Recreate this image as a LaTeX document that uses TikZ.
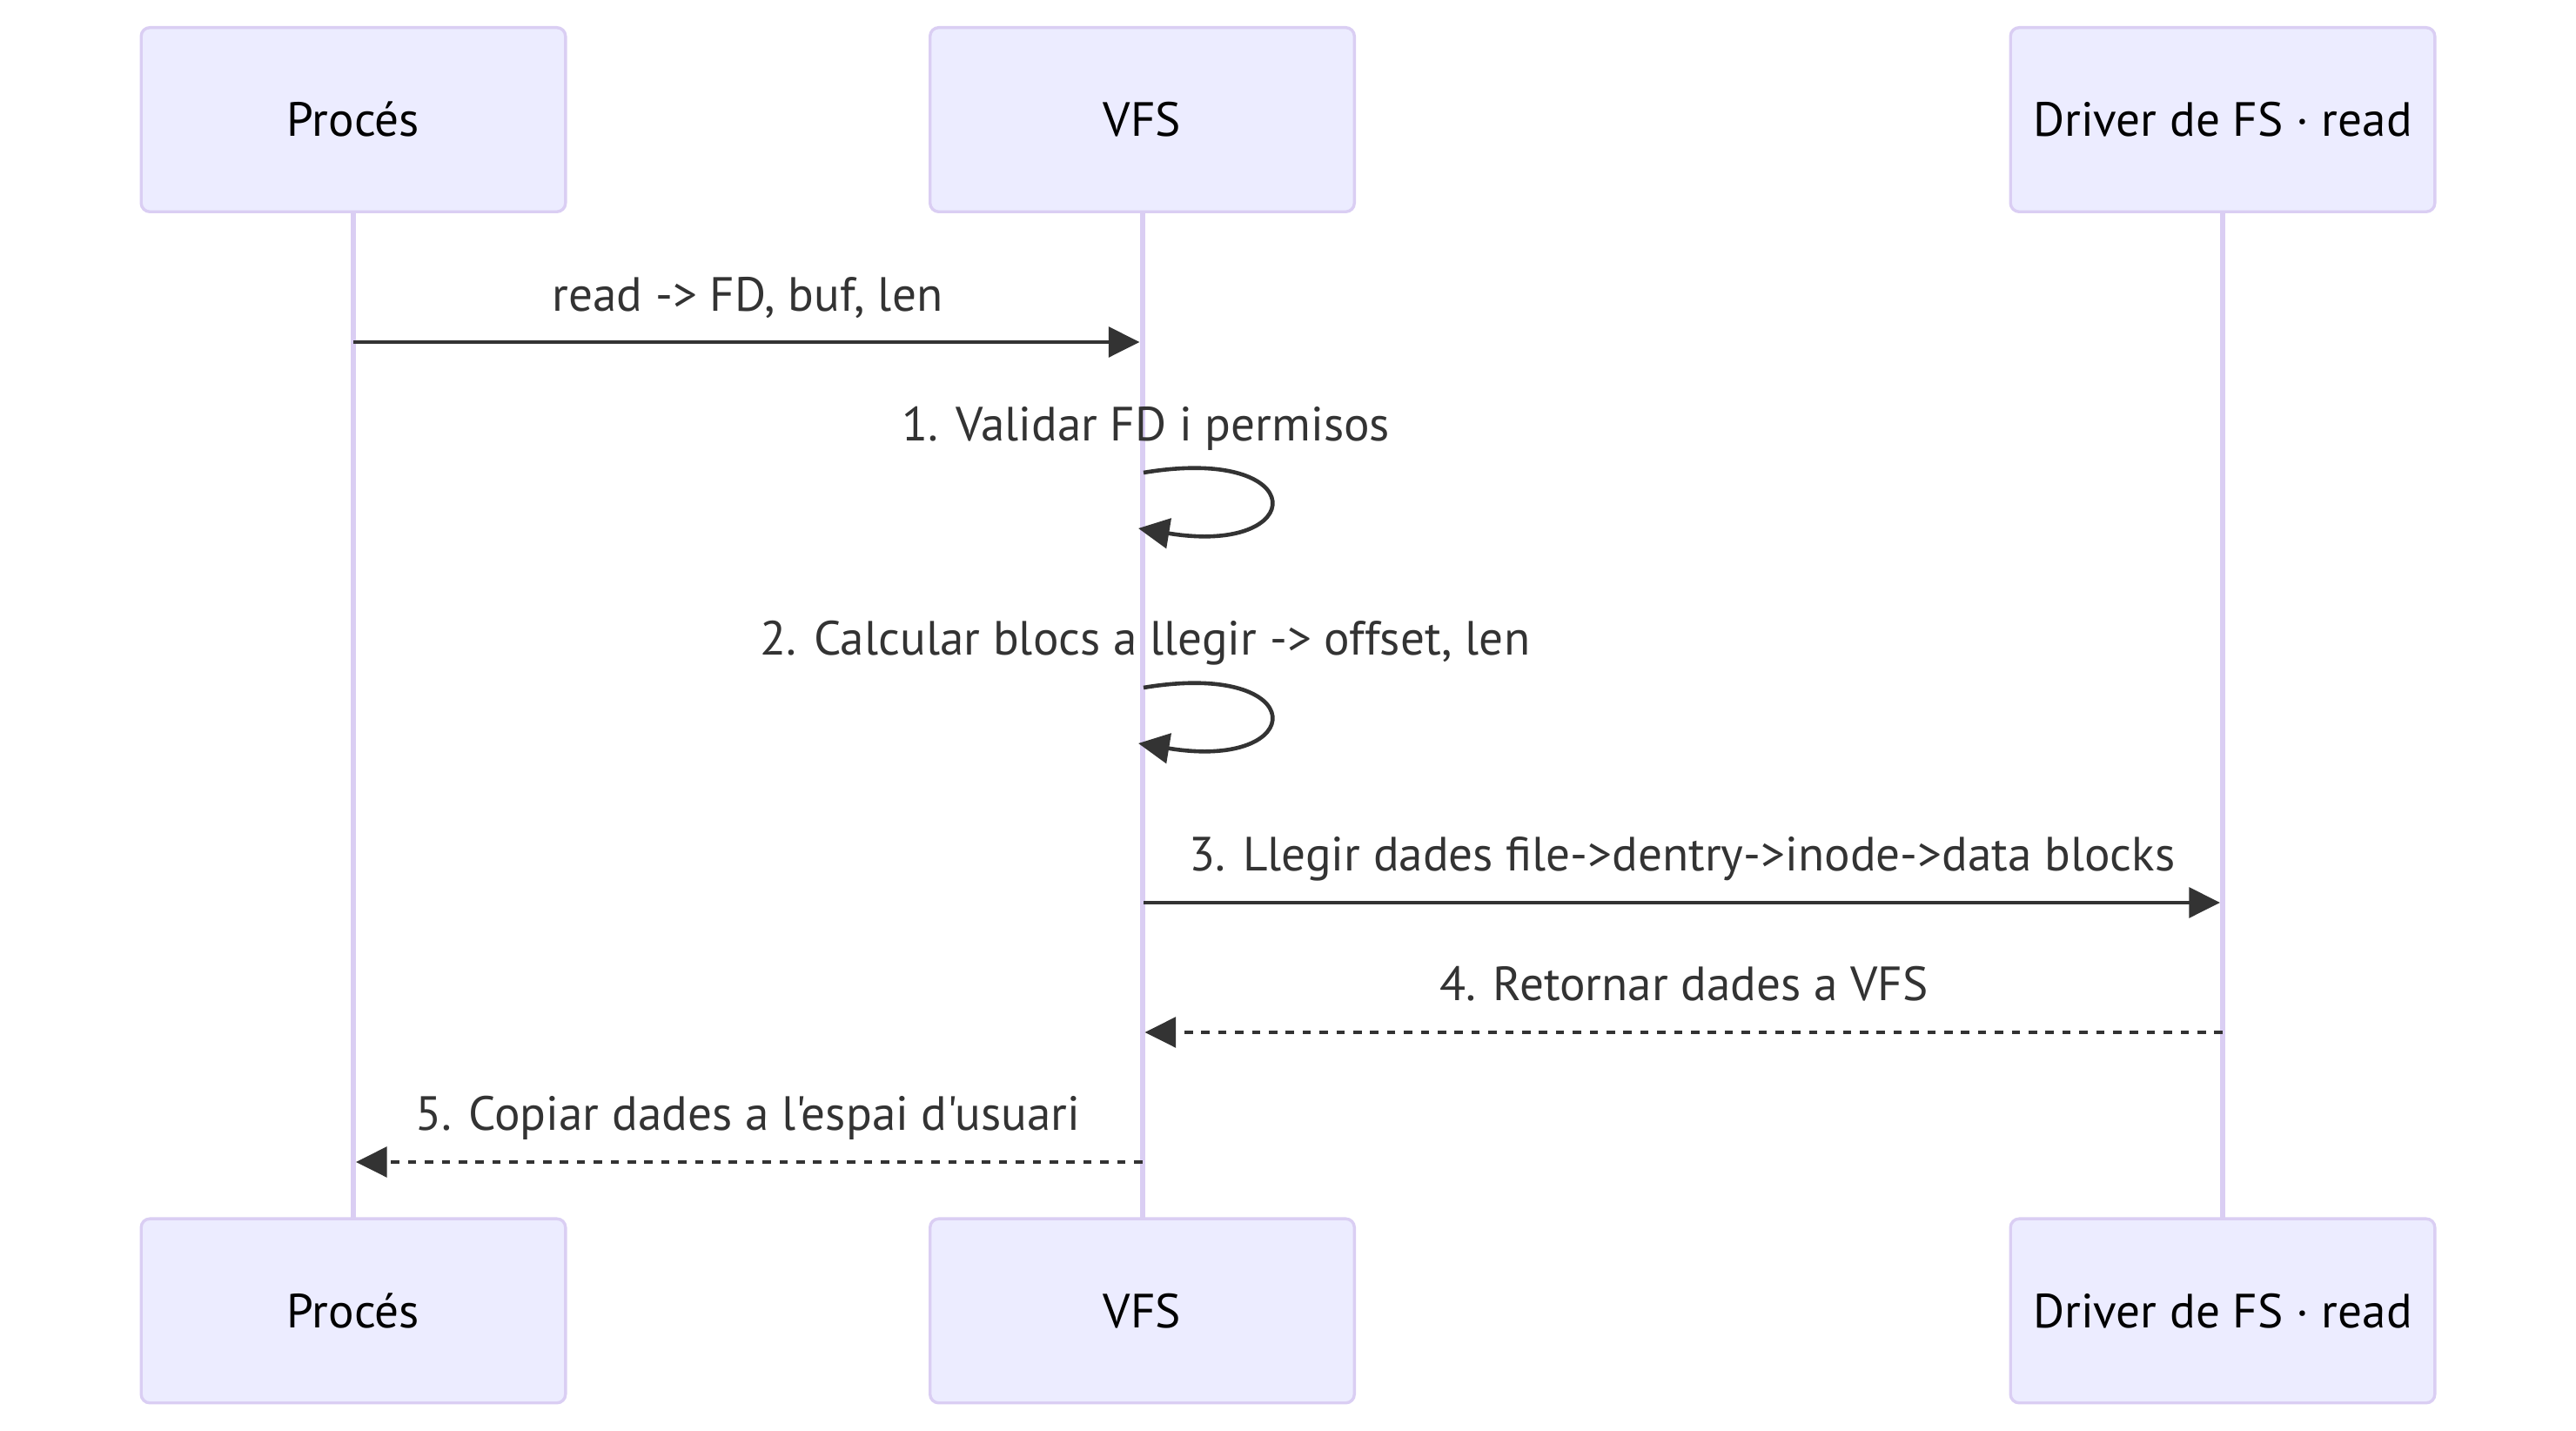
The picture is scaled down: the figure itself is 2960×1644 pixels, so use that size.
\documentclass[tikz,border=0pt]{standalone}
\usepackage{fontspec}
\newfontfamily\dfont{PT Sans}[Ligatures=TeXOff]
\usetikzlibrary{arrows.meta}
\definecolor{actfill}{HTML}{ECECFF}
\definecolor{actline}{HTML}{DACEF3}
\definecolor{txt}{HTML}{333333}
\tikzset{
  actor/.style={draw=actline, line width=0.85pt, fill=actfill, rounded corners=2.5pt,
    minimum width=121.9pt, minimum height=52.9pt, inner sep=0pt,
    font=\dfont\fontsize{13.8}{16}\selectfont, text=black, text height=9.7pt, text depth=0pt},
  lifeline/.style={draw=actline, line width=1.5pt},
  msgtext/.style={anchor=base, inner sep=0pt, font=\dfont\fontsize{13.8}{16}\selectfont, text=txt},
  msgline/.style={draw=txt, line width=1.15pt, -{Triangle[length=8.9pt,width=8.6pt]}},
  replyline/.style={msgline, dash pattern=on 2.4pt off 2.45pt}
}
\begin{document}
\begin{tikzpicture}[x=0.25pt,y=-0.25pt]
\useasboundingbox (0,0) rectangle (2960,1644);
% lifelines first (behind boxes)
\coordinate (lA) at (406,244); \coordinate (lAe) at (406,1400);
\coordinate (lB) at (1312.5,244); \coordinate (lBe) at (1312.5,1400);
\coordinate (lC) at (2554,244); \coordinate (lCe) at (2554,1400);
\draw[lifeline] (lA) -- (lAe);
\draw[lifeline] (lB) -- (lBe);
\draw[lifeline] (lC) -- (lCe);
% actors
\node[actor] (pA) at (406,137.5) {Procés};
\node[actor] (pB) at (1312.5,137.5) {VFS};
\node[actor] (pC) at (2554,137.5) {Driver de FS · read};
\node[actor] (bA) at (406,1506) {Procés};
\node[actor] (bB) at (1312.5,1506) {VFS};
\node[actor] (bC) at (2554,1506) {Driver de FS · read};
% message 1
\coordinate (m1a) at (406,393); \coordinate (m1b) at (1309.5,393);
\draw[msgline] (m1a) -- (m1b);
\node[msgtext] (t1) at (859,357.5) {read -> FD, buf, len};
% self 1
\coordinate (s1a) at (1314,543); \coordinate (s1b) at (1308,607);
\draw[msgline] (s1a) .. controls +(195,-32.5) and +(197,32.5) .. (s1b);
\node[msgtext] (t2) at (1317,507) {1. Validar FD i permisos};
% self 2
\coordinate (s2a) at (1314,790); \coordinate (s2b) at (1308,854);
\draw[msgline] (s2a) .. controls +(195,-32.5) and +(197,32.5) .. (s2b);
\node[msgtext] (t3) at (1316,753) {2. Calcular blocs a llegir -> offset, len};
% message 3
\coordinate (m3a) at (1314,1037); \coordinate (m3b) at (2551,1037);
\draw[msgline] (m3a) -- (m3b);
\node[msgtext] (t4) at (1933,1000.5) {3. Llegir dades file->dentry->inode->data blocks};
% message 4
\coordinate (m4a) at (2554,1186); \coordinate (m4b) at (1315.5,1186);
\draw[replyline] (m4a) -- (m4b);
\node[msgtext] (t5) at (1935,1150) {4. Retornar dades a VFS};
% message 5
\coordinate (m5a) at (1312.5,1335); \coordinate (m5b) at (409,1335);
\draw[replyline] (m5a) -- (m5b);
\node[msgtext] (t6) at (859,1299) {5. Copiar dades a l'espai d'usuari};
\end{tikzpicture}
\end{document}
